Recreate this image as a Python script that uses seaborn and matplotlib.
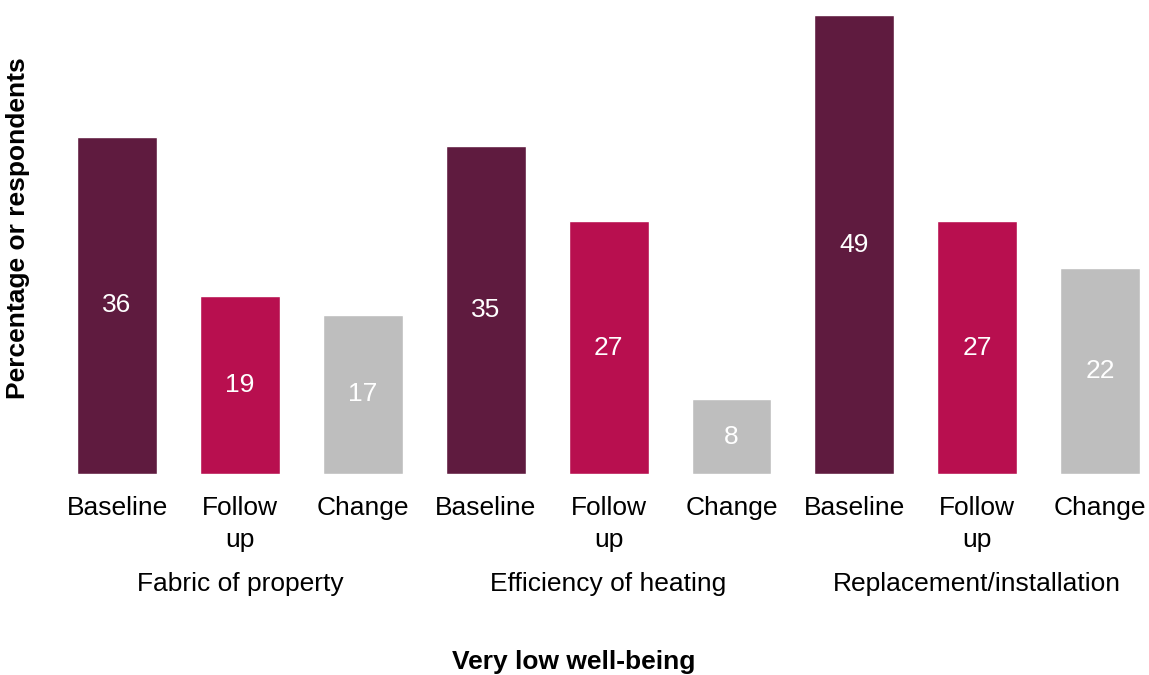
import matplotlib
matplotlib.use("Agg")
import matplotlib.pyplot as plt
import seaborn as sns
import pandas as pd

groups = ["Fabric of property", "Efficiency of heating", "Replacement/installation"]
measures = ["Baseline", "Follow\nup", "Change"]
baseline = [36, 35, 49]
follow_up = [19, 27, 27]
change = [17, 8, 22]
colors = ["#5F1B3F", "#B80F4F", "#BEBEBE"]

sns.set_theme(style="white")
plt.rcParams["font.family"] = ["Liberation Sans", "DejaVu Sans"]
plt.rcParams["text.color"] = "black"

rows = []
for gi, g in enumerate(groups):
    for m, vals in zip(measures, [baseline, follow_up, change]):
        rows.append({"key": f"{g}|{m}", "measure": m, "value": vals[gi], "group": g})
df = pd.DataFrame(rows)
order = list(df["key"])

fig = plt.figure(figsize=(11.49, 6.75), dpi=100)
ax = fig.add_axes([0, (675 - 474) / 675, 1, 459 / 675])
sns.barplot(data=df, x="key", y="value", hue="measure", order=order,
            hue_order=measures, palette=colors, dodge=False, width=0.65,
            saturation=1, legend=False, ax=ax)

fs = 19
for c in ax.containers:
    ax.bar_label(c, fmt="%g", label_type="center", color="white", fontsize=fs)

ax.set_xlim(-117 / 122.9, (1149 - 117) / 122.9)
ax.set_ylim(0, 49)
ax.set_xticks(range(len(order)))
ax.set_xticklabels([k.split("|")[1] for k in order], fontsize=fs, color="black")
for t in ax.get_xticklabels():
    t.set_linespacing(1.4)
ax.tick_params(axis="x", length=0, pad=16)
ax.set_yticks([])
ax.set_xlabel("")
ax.set_ylabel("")
for s in ax.spines.values():
    s.set_visible(False)

for gi, g in enumerate(groups):
    xpix = 117 + 122.9 * (gi * 3 + 1)
    fig.text(xpix / 1149, 1 - 584 / 675, g, ha="center", va="center",
             fontsize=fs, color="black")

fig.text(18 / 1149, 1 - 228 / 675, "Percentage or respondents", rotation=90,
         ha="center", va="center", fontsize=fs, fontweight="bold", color="black")
fig.text(574 / 1149, 1 - 662 / 675, "Very low well-being", ha="center",
         va="center", fontsize=fs, fontweight="bold", color="black")

fig.savefig("out.png", dpi=100)
